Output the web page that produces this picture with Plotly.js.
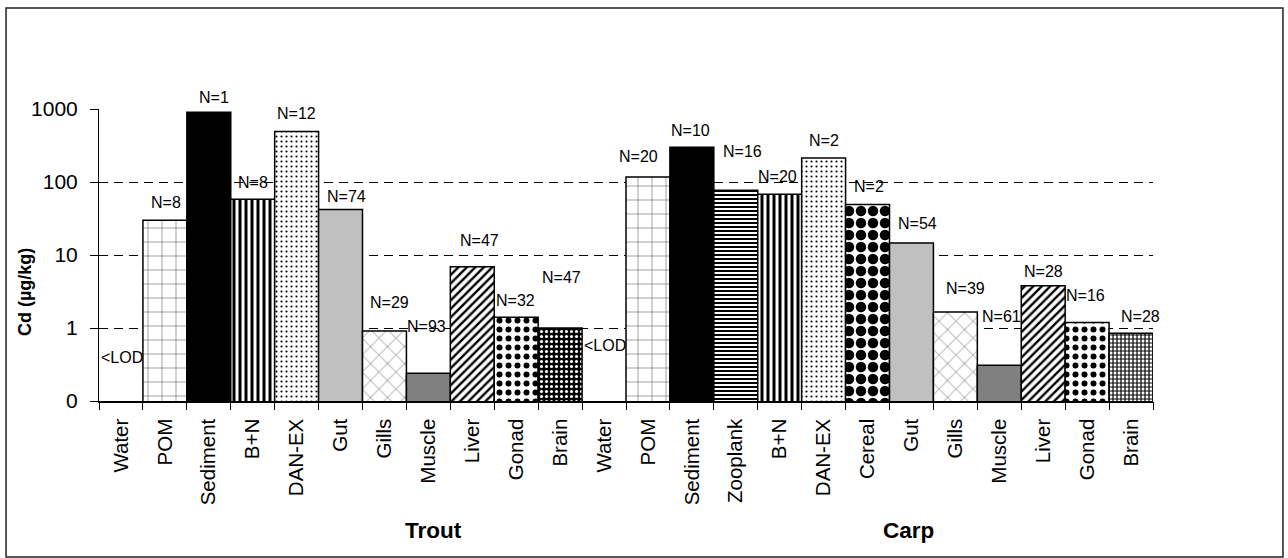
<!DOCTYPE html>
<html>
<head>
<meta charset="utf-8">
<script src="https://cdn.plot.ly/plotly-3.0.1.min.js"></script>
<style>
  html, body { margin: 0; padding: 0; background: #fff; }
  #chart { width: 1288px; height: 558px; }
</style>
</head>
<body>
<div id="chart"></div>
<script>
// Cadmium concentrations (µg/kg) in the water, food items and fish tissues
const categories = ['Water', 'POM', 'Sediment', 'B+N', 'DAN-EX', 'Gut', 'Gills', 'Muscle', 'Liver', 'Gonad', 'Brain',
                    'Water', 'POM', 'Sediment', 'Zooplank', 'B+N', 'DAN-EX', 'Cereal', 'Gut', 'Gills', 'Muscle', 'Liver', 'Gonad', 'Brain'];
const cdValues = [null, 30, 900, 58, 490, 42, 0.91, 0.24, 6.9, 1.4, 1.0,
                  null, 117, 300, 77, 68, 213, 49, 14.6, 1.66, 0.31, 3.8, 1.19, 0.85];
const sampleSizes = ['', 'N=8', 'N=1', 'N=8', 'N=12', 'N=74', 'N=29', 'N=93', 'N=47', 'N=32', 'N=47',
                     '', 'N=20', 'N=10', 'N=16', 'N=20', 'N=2', 'N=2', 'N=54', 'N=39', 'N=61', 'N=28', 'N=16', 'N=28'];
const belowLimit = ['<LOD', '', '', '', '', '', '', '', '', '', '',
                    '<LOD', '', '', '', '', '', '', '', '', '', '', '', ''];
const groups = ['Trout', 'Carp'];
const yTickVals = [0.1, 1, 10, 100, 1000];
const yTickText = ['0', '1', '10', '100', '1000'];
const yGridVals = [1, 10, 100];

// Fill styles
const FILLS = {
  grid:      { shape: '+', fg: '#444444', bg: '#ffffff', size: 14, sol: 0.07 },
  black:     { shape: '',  fg: '#000000', bg: '#000000', size: 8,  sol: 0.3 },
  vstripe:   { shape: '|', fg: '#000000', bg: '#ffffff', size: 6,  sol: 0.5 },
  finedots:  { shape: '.', fg: '#000000', bg: '#ffffff', size: 5,  sol: 0.14 },
  lightgray: { shape: '',  fg: '#c0c0c0', bg: '#c0c0c0', size: 8,  sol: 0.3 },
  crosshatch:{ shape: 'x', fg: '#666666', bg: '#ffffff', size: 12, sol: 0.1 },
  darkgray:  { shape: '',  fg: '#808080', bg: '#808080', size: 8,  sol: 0.3 },
  diagonal:  { shape: '/', fg: '#000000', bg: '#ffffff', size: 6,  sol: 0.4 },
  bigdots:   { shape: '.', fg: '#000000', bg: '#ffffff', size: 9,  sol: 0.35 },
  darkdots:  { shape: '.', fg: '#ffffff', bg: '#000000', size: 5,  sol: 0.3 },
  hstripe:   { shape: '-', fg: '#000000', bg: '#ffffff', size: 4,  sol: 0.5 },
  spheres:   { shape: '.', fg: '#000000', bg: '#ffffff', size: 12, sol: 0.6 },
  finegrid:  { shape: '+', fg: '#000000', bg: '#ffffff', size: 4,  sol: 0.5 }
};
const barFills = ['grid', 'grid', 'black', 'vstripe', 'finedots', 'lightgray', 'crosshatch', 'darkgray', 'diagonal', 'bigdots', 'darkdots',
                  'grid', 'grid', 'black', 'hstripe', 'vstripe', 'finedots', 'spheres', 'lightgray', 'crosshatch', 'darkgray', 'diagonal', 'bigdots', 'finegrid'];

// Label offsets [dx, dy] in px from the top centre of each bar
const labelNudge = [[1, -44], [1, -18], [5, -15], [0, -17], [0, -18], [6, -13], [5, -28], [-2, -47], [7, -26], [-1, -17], [1, -51],
                    [1, -56], [-9, -21], [-1, -17], [7, -39], [-2, -18], [0, -18], [1, -18], [6, -20], [10, -23], [2, -49], [0, -14], [-2, -27], [9, -17]];

const FONT = 'Liberation Sans, Arial, sans-serif';
const idx = categories.map((_, i) => i);

// One bar trace per category so each gets its own fill
const traces = [];
idx.forEach(i => {
  if (cdValues[i] === null) return;
  const f = FILLS[barFills[i]];
  const marker = { color: f.bg, line: { color: '#000000', width: 1.5 } };
  if (f.shape) {
    marker.pattern = { shape: f.shape, fgcolor: f.fg, bgcolor: f.bg, size: f.size, solidity: f.sol, fillmode: 'replace' };
  }
  traces.push({
    type: 'bar', x: [i], y: [cdValues[i]], width: 1,
    marker: marker, hoverinfo: 'skip', showlegend: false
  });
});

// Empty trace that carries the boundary ticks and the dashed grid
traces.push({ type: 'scatter', x: [], y: [], xaxis: 'x2', yaxis: 'y2', showlegend: false, hoverinfo: 'skip' });

const annotations = [];
idx.forEach(i => {
  const v = cdValues[i];
  const [dx, dy] = labelNudge[i];
  if (v !== null && sampleSizes[i]) {
    annotations.push({
      xref: 'x', yref: 'y', x: i, y: Math.log10(v),
      xshift: dx, yshift: -dy, showarrow: false,
      text: sampleSizes[i], xanchor: 'center', yanchor: 'middle',
      font: { family: FONT, size: 16, color: '#000' }
    });
  } else if (belowLimit[i]) {
    annotations.push({
      xref: 'x', yref: 'y', x: i, y: Math.log10(yTickVals[0]),
      xshift: dx, yshift: -dy, showarrow: false,
      text: belowLimit[i].replace('<', '&lt;'), xanchor: 'center', yanchor: 'middle',
      font: { family: FONT, size: 16, color: '#000' }
    });
  }
});

// Group titles under the category labels
const groupX = [0.3176, 0.7685];
groups.forEach((g, k) => {
  annotations.push({
    xref: 'paper', yref: 'paper', x: groupX[k], y: -0.442,
    text: '<b>' + g + '</b>', showarrow: false, xanchor: 'center', yanchor: 'middle',
    font: { family: FONT, size: 22.5, color: '#000' }
  });
});

// Y-axis title
annotations.push({
  xref: 'paper', yref: 'paper', x: -0.0702, y: 0.373,
  text: '<b>Cd (µg/kg)</b>', textangle: -90, showarrow: false,
  xanchor: 'center', yanchor: 'middle',
  font: { family: FONT, size: 18, color: '#000' }
});

const boundaries = idx.map(i => i - 0.5).concat([categories.length - 0.5]);
const xRange = [-0.5, categories.length - 0.5];
const yRange = [Math.log10(yTickVals[0]), Math.log10(yTickVals[yTickVals.length - 1])];

const layout = {
  width: 1288, height: 558,
  margin: { l: 99, r: 135, t: 109, b: 157 },
  paper_bgcolor: '#ffffff',
  plot_bgcolor: 'rgba(0,0,0,0)',
  barmode: 'overlay',
  bargap: 0,
  font: { family: FONT, color: '#000' },
  xaxis: {
    range: xRange, tickmode: 'array', tickvals: idx, ticktext: categories,
    tickangle: -90, ticks: 'outside', ticklen: 8, tickcolor: 'rgba(0,0,0,0)',
    showline: true, linecolor: '#000', linewidth: 1.5,
    showgrid: false, zeroline: false, fixedrange: true,
    tickfont: { family: FONT, size: 20.5, color: '#000' }
  },
  xaxis2: {
    overlaying: 'x', anchor: 'y2', side: 'bottom', range: xRange,
    tickmode: 'array', tickvals: boundaries, ticks: 'outside', ticklen: 8,
    tickcolor: '#000', tickwidth: 1, showticklabels: false,
    showline: false, showgrid: false, zeroline: false, fixedrange: true
  },
  yaxis: {
    type: 'log', range: yRange, tickmode: 'array', tickvals: yTickVals, ticktext: yTickText,
    ticks: 'outside', ticklen: 8, tickcolor: '#000', tickwidth: 1, ticklabelstandoff: 8,
    showline: true, linecolor: '#000', linewidth: 1,
    showgrid: true, gridcolor: '#ececec', griddash: '9px,6px', gridwidth: 1,
    zeroline: false, fixedrange: true,
    tickfont: { family: FONT, size: 21, color: '#000' }
  },
  yaxis2: {
    overlaying: 'y', anchor: 'x2', type: 'log', range: yRange,
    tickmode: 'array', tickvals: yGridVals, ticks: '', showticklabels: false,
    showline: false, showgrid: true, gridcolor: '#000', griddash: '9px,6px', gridwidth: 1,
    zeroline: false, fixedrange: true
  },
  annotations: annotations,
  shapes: [{
    type: 'rect', xref: 'paper', yref: 'paper', layer: 'below',
    x0: -0.0882, x1: 1.1233, y0: -0.534, y1: 1.3459,
    line: { color: '#222', width: 1.5 }, fillcolor: 'rgba(0,0,0,0)'
  }]
};

Plotly.newPlot('chart', traces, layout, { displayModeBar: false, staticPlot: true });
</script>
</body>
</html>
